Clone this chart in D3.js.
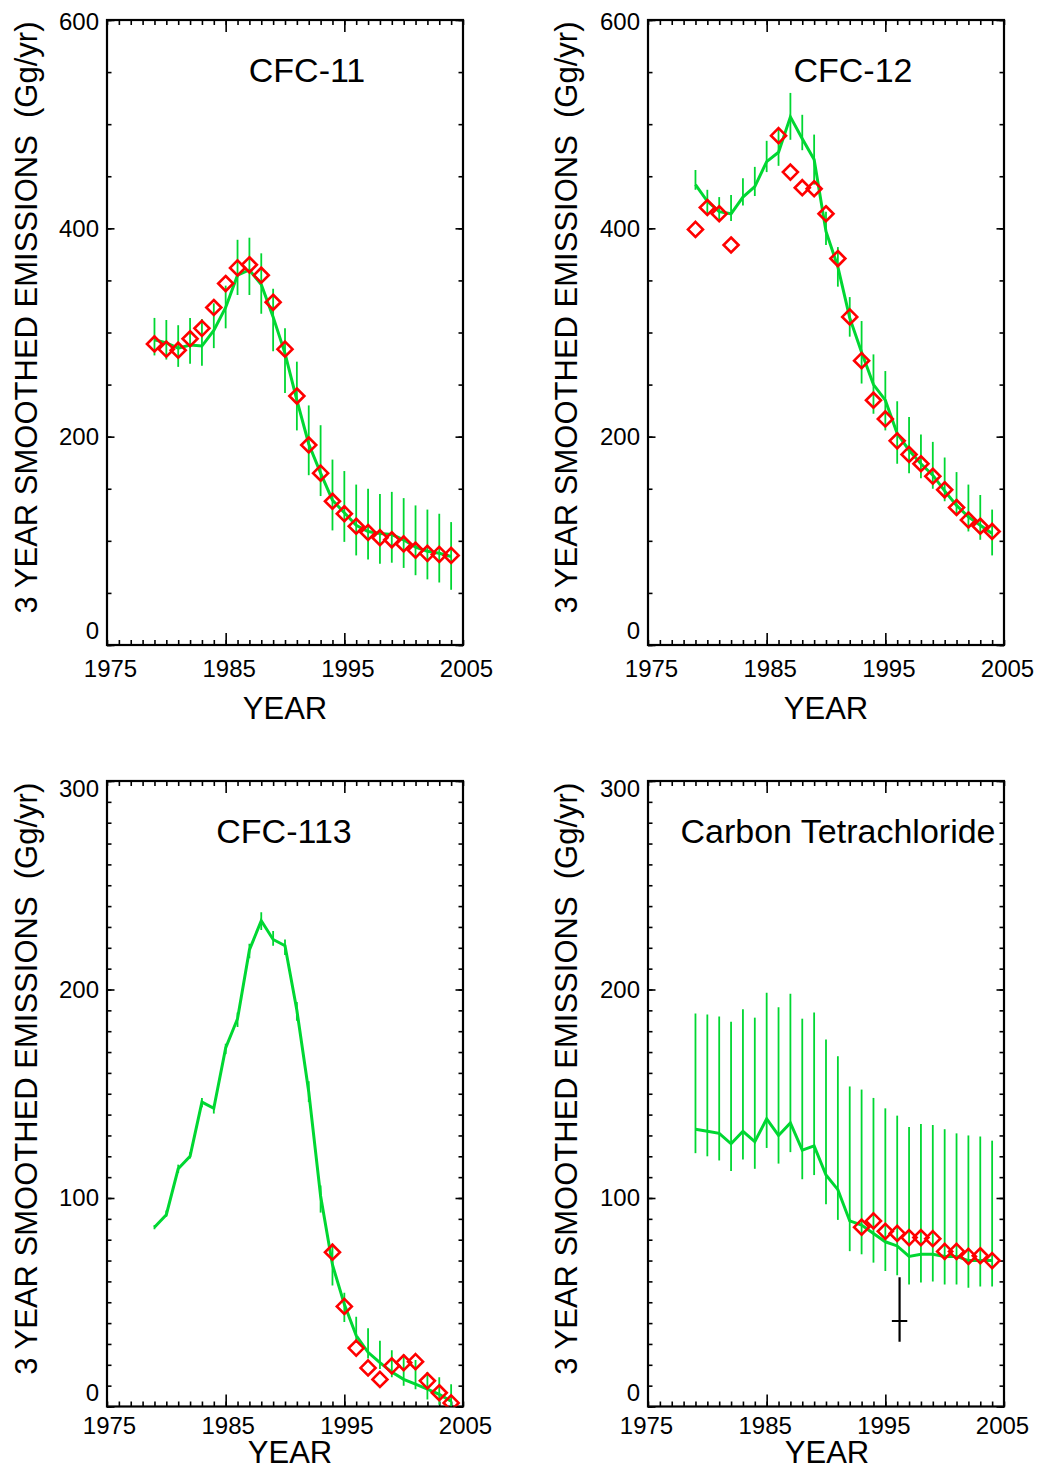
<!DOCTYPE html>
<html>
<head>
<meta charset="utf-8">
<script src="https://cdn.jsdelivr.net/npm/d3@7"></script>
<style>
  body { margin: 0; background: #fff; }
  svg { display: block; }
  text { font-family: "Liberation Sans", Arial, Helvetica, sans-serif; fill: #000; }
</style>
</head>
<body>
<div id="chart"></div>
<script>
// Years shared by every panel
const years = [1979, 1980, 1981, 1982, 1983, 1984, 1985, 1986, 1987, 1988, 1989, 1990, 1991,
               1992, 1993, 1994, 1995, 1996, 1997, 1998, 1999, 2000, 2001, 2002, 2003, 2004];

// CFC-11
const cfc11Model = [293, 290, 285, 288, 287, 302, 324, 355, 360, 346, 315, 280, 235, 193, 165, 139, 127, 115, 109, 107, 106, 101, 94, 90, 88, 85];
const cfc11Hi    = [314, 312, 307, 314, 313, 328, 345, 389, 391, 376, 342, 304, 272, 230, 211, 178, 167, 154, 150, 145, 147, 141, 134, 130, 126, 118];
const cfc11Lo    = [278, 274, 267, 270, 268, 285, 304, 336, 336, 318, 282, 242, 206, 163, 143, 110, 99, 86, 82, 78, 79, 74, 67, 63, 60, 53];
const cfc11Obs   = [289, 284, 283, 294, 304, 324, 347, 362, 365, 355, 329, 284, 239, 192, 165, 138, 126, 114, 108, 103, 101, 97, 91, 88, 87, 86];

// CFC-12
const cfc12Model = [442, 426, 416, 414, 430, 440, 464, 473, 507, 486, 466, 397, 363, 314, 281, 250, 235, 203, 187, 174, 163, 148, 134, 123, 115, 107];
const cfc12Hi    = [456, 437, 430, 432, 448, 459, 484, 496, 530, 509, 490, 416, 382, 334, 311, 279, 263, 234, 219, 202, 195, 180, 166, 154, 144, 130];
const cfc12Lo    = [437, 414, 408, 407, 422, 431, 454, 460, 485, 475, 442, 384, 344, 296, 251, 222, 206, 174, 165, 160, 150, 138, 126, 109, 101, 86];
const cfc12Obs   = [399, 420, 414, 384, null, null, null, 489, 454, 439, 438, 414, 371, 315, 273, 235, 217, 196, 183, 174, 162, 149, 132, 120, 114, 109];

// CFC-113
const cfc113Model = [86, 92, 114, 120, 146, 143, 172, 186, 219, 233, 224, 221, 190, 151, 101, 68, 49, 34, 26, 21, 16.5, 13, 10.7, 8.3, 5.8, 2.5];
const cfc113Hi    = [87, 94, 116, 122, 148, 145, 174, 189, 222, 237, 228, 224, 194, 156, 106, 78, 54.5, 43, 37.5, 31.5, 27, 25, 22.3, 16.5, 14, 10.7];
const cfc113Lo    = [85, 91, 112, 119, 143.5, 140.5, 169, 182, 215, 228.5, 221, 216.5, 185, 146, 93, 58, 40.5, 30.5, 23, 18, 14, 10, 8.3, 3.3, 0.8, 0];
const cfc113Obs   = [null, null, null, null, null, null, null, null, null, null, null, null, null, null, null,
                     74, 48, 28, 18.5, 13, 19.5, 21, 21.5, 12.3, 6.6, 1.7];

// Carbon Tetrachloride
const cclModel = [133, 132, 131, 126, 132, 127, 138, 130, 136, 123, 125, 111, 104, 89, 87, 83, 79, 77, 72, 73, 73, 72, 72, 70, 70, 70];
const cclHi    = [188.5, 188, 187, 184.5, 190.5, 186.5, 198.5, 191.5, 198, 186, 189, 176, 168, 153.5, 152, 148, 143, 139.5, 134, 135.5, 135, 133, 131, 130, 129.5, 127.5];
const cclLo    = [121.5, 120, 118, 113, 118.5, 114, 124, 116.5, 122, 109, 111, 97, 89.5, 74.5, 73, 69, 65, 63, 58.5, 59.5, 60, 58.5, 58.5, 57, 57.5, 57.5];
const cclObs   = [null, null, null, null, null, null, null, null, null, null, null, null, null, null,
                  86, 89, 84, 83, 81, 81, 80.5, 74.4, 74.4, 72, 72.3, 70];
// single independent estimate (black cross)
const cclCross = { year: 1996.2, value: 41, lo: 31, hi: 62, halfYear: 0.65 };

// Axis tick values
const xLabelTicks = [1975, 1985, 1995, 2005];
const xMajorTicks = [1985, 1995];
const yLabels600 = [0, 200, 400, 600];
const yLabels300 = [0, 100, 200, 300];

const W = 1039, H = 1471;
const green = "rgb(0,215,50)";
const red = "#ff0000";

const panels = [
  { title: "CFC-11", model: cfc11Model, hi: cfc11Hi, lo: cfc11Lo, obs: cfc11Obs, yMax: 600, yMajor: yLabels600, yMinorStep: 50,
    box: { left: 107, right: 463, top: 20, bottom: 645 }, titleX: 307, titleY: 82, topShift: 2, xlPad: 15, xlDx: 3, yearY: 719, yearX: 285, ylabX: 37 },
  { title: "CFC-12", model: cfc12Model, hi: cfc12Hi, lo: cfc12Lo, obs: cfc12Obs, yMax: 600, yMajor: yLabels600, yMinorStep: 50,
    box: { left: 648, right: 1004, top: 20, bottom: 645 }, titleX: 853, titleY: 82, topShift: 2, xlPad: 15, xlDx: 3, yearY: 719, yearX: 826, ylabX: 577 },
  { title: "CFC-113", model: cfc113Model, hi: cfc113Hi, lo: cfc113Lo, obs: cfc113Obs, yMax: 300, yMajor: yLabels300, yMinorStep: 10,
    box: { left: 107, right: 463, top: 781, bottom: 1406.5 }, titleX: 284, titleY: 843, topShift: 8, xlPad: 10, xlDx: 2, yearY: 1463, yearX: 290, ylabX: 37 },
  { title: "Carbon Tetrachloride", model: cclModel, hi: cclHi, lo: cclLo, obs: cclObs, yMax: 300, yMajor: yLabels300, yMinorStep: 10,
    box: { left: 648, right: 1004, top: 781, bottom: 1406.5 }, titleX: 838, titleY: 843, topShift: 8, xlPad: 10, xlDx: -2, yearY: 1463, yearX: 827, ylabX: 577,
    cross: cclCross }
];

const svg = d3.select("#chart").append("svg")
  .attr("width", W)
  .attr("height", H);

svg.append("rect").attr("width", W).attr("height", H).attr("fill", "#fff");

const fontFamily = '"Liberation Sans", Arial, Helvetica, sans-serif';

panels.forEach((p, pi) => {
  const b = p.box;
  const x = d3.scaleLinear().domain([1975, 2005]).range([b.left, b.right]);
  const y = d3.scaleLinear().domain([0, p.yMax]).range([b.bottom, b.top]);

  const g = svg.append("g");

  // clip to plot window
  const clipId = "clip" + pi;
  svg.append("clipPath").attr("id", clipId)
    .append("rect")
    .attr("x", b.left).attr("y", b.top)
    .attr("width", b.right - b.left).attr("height", b.bottom - b.top);

  const strip = sel => sel.call(s => s.select(".domain").remove())
    .call(s => s.selectAll("line").attr("stroke", "#000").attr("stroke-width", 1.6));

  const minorYears = d3.range(1975, 2006);
  const minorY = d3.range(0, p.yMax + 0.001, p.yMinorStep);

  // bottom / top ticks
  g.append("g").attr("transform", `translate(0,${b.bottom})`)
    .call(d3.axisBottom(x).tickValues(minorYears).tickSize(-5).tickFormat("")).call(strip);
  g.append("g").attr("transform", `translate(0,${b.bottom})`)
    .call(d3.axisBottom(x).tickValues(xMajorTicks).tickSize(-12).tickFormat("")).call(strip);
  g.append("g").attr("transform", `translate(0,${b.top})`)
    .call(d3.axisTop(x).tickValues(minorYears).tickSize(-5).tickFormat("")).call(strip);
  g.append("g").attr("transform", `translate(0,${b.top})`)
    .call(d3.axisTop(x).tickValues(xMajorTicks).tickSize(-12).tickFormat("")).call(strip);

  // left / right ticks
  g.append("g").attr("transform", `translate(${b.left},0)`)
    .call(d3.axisLeft(y).tickValues(minorY).tickSize(-4.5).tickFormat("")).call(strip);
  g.append("g").attr("transform", `translate(${b.left},0)`)
    .call(d3.axisLeft(y).tickValues(p.yMajor).tickSize(-7.5).tickFormat("")).call(strip);
  g.append("g").attr("transform", `translate(${b.right},0)`)
    .call(d3.axisRight(y).tickValues(minorY).tickSize(-4.5).tickFormat("")).call(strip);
  g.append("g").attr("transform", `translate(${b.right},0)`)
    .call(d3.axisRight(y).tickValues(p.yMajor).tickSize(-7.5).tickFormat("")).call(strip);

  // x tick labels
  const xl = g.append("g").attr("transform", `translate(0,${b.bottom})`)
    .call(d3.axisBottom(x).tickValues(xLabelTicks).tickSize(0).tickPadding(p.xlPad).tickFormat(d3.format("d")))
    .call(s => s.select(".domain").remove());
  xl.attr("font-family", fontFamily).attr("font-size", 24);
  xl.selectAll("text").attr("fill", "#000").attr("dx", p.xlDx);

  // y tick labels
  const yl = g.append("g").attr("transform", `translate(${b.left},0)`)
    .call(d3.axisLeft(y).tickValues(p.yMajor).tickSize(0).tickPadding(8).tickFormat(d3.format("d")))
    .call(s => s.select(".domain").remove());
  yl.attr("font-family", fontFamily).attr("font-size", 24);
  yl.selectAll("text").attr("fill", "#000")
    .attr("transform", d => d === 0 ? "translate(0,-14)" : (d === p.yMax ? `translate(0,${p.topShift})` : null));

  // frame
  g.append("rect")
    .attr("x", b.left).attr("y", b.top)
    .attr("width", b.right - b.left).attr("height", b.bottom - b.top)
    .attr("fill", "none").attr("stroke", "#000").attr("stroke-width", 2.2);

  // data layer
  const d = years.map((yr, i) => ({ year: yr, model: p.model[i], hi: p.hi[i], lo: p.lo[i], obs: p.obs[i] }));
  const plot = g.append("g").attr("clip-path", `url(#${clipId})`);

  plot.selectAll("line.err").data(d).enter().append("line")
    .attr("class", "err")
    .attr("x1", e => x(e.year)).attr("x2", e => x(e.year))
    .attr("y1", e => y(e.hi)).attr("y2", e => y(e.lo))
    .attr("stroke", green).attr("stroke-width", 1.8);

  const line = d3.line().x(e => x(e.year)).y(e => y(e.model));
  plot.append("path").datum(d)
    .attr("d", line)
    .attr("fill", "none").attr("stroke", green).attr("stroke-width", 3)
    .attr("stroke-linejoin", "miter");

  const r = 7.5;
  plot.selectAll("path.obs").data(d.filter(e => e.obs != null)).enter().append("path")
    .attr("class", "obs")
    .attr("d", e => {
      const cx = x(e.year), cy = y(e.obs);
      return `M${cx},${cy - r}L${cx + r},${cy}L${cx},${cy + r}L${cx - r},${cy}Z`;
    })
    .attr("fill", "none").attr("stroke", red).attr("stroke-width", 2.6);

  if (p.cross) {
    const c = p.cross;
    plot.append("line")
      .attr("x1", x(c.year)).attr("x2", x(c.year))
      .attr("y1", y(c.hi)).attr("y2", y(c.lo))
      .attr("stroke", "#000").attr("stroke-width", 2.2);
    plot.append("line")
      .attr("x1", x(c.year - c.halfYear)).attr("x2", x(c.year + c.halfYear))
      .attr("y1", y(c.value)).attr("y2", y(c.value))
      .attr("stroke", "#000").attr("stroke-width", 2.2);
  }

  // title
  g.append("text")
    .attr("x", p.titleX).attr("y", p.titleY)
    .attr("text-anchor", "middle")
    .attr("font-size", 34)
    .text(p.title);

  // x axis title
  g.append("text")
    .attr("x", p.yearX).attr("y", p.yearY)
    .attr("text-anchor", "middle")
    .attr("font-size", 31)
    .text("YEAR");

  // y axis title
  const yc = (b.top + b.bottom) / 2 - 15;
  g.append("text")
    .attr("transform", `translate(${p.ylabX},${yc}) rotate(-90)`)
    .attr("text-anchor", "middle")
    .attr("font-size", 31)
    .attr("xml:space", "preserve")
    .style("white-space", "pre")
    .text("3 YEAR SMOOTHED EMISSIONS  (Gg/yr)");
});
</script>
</body>
</html>
